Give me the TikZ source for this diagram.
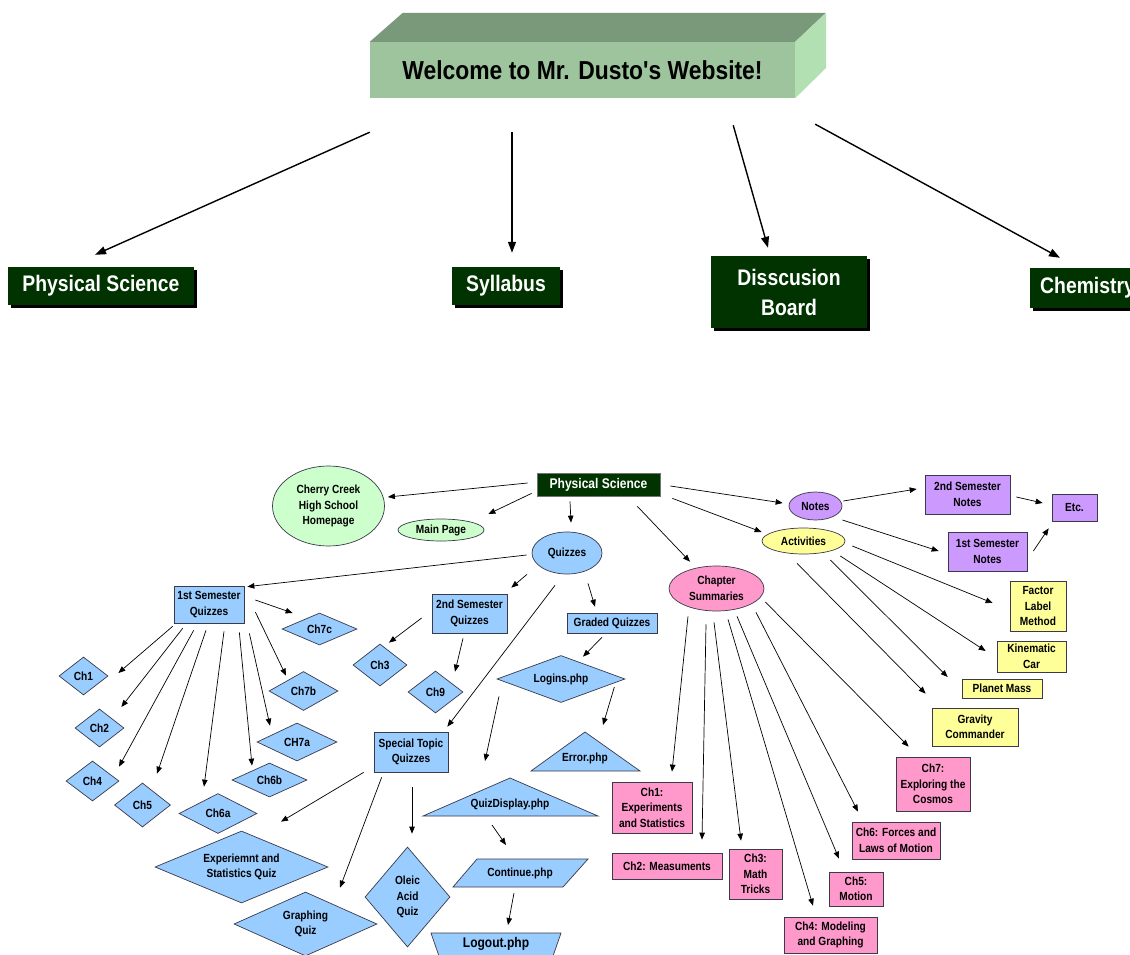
\documentclass[tikz,border=0pt]{standalone}
\usepackage{fontspec}
\setmainfont{Liberation Sans}[FakeStretch=0.86]
\newfontfamily\welfont{Liberation Sans}[FakeStretch=0.88, Ligatures=TeXOff]
\usetikzlibrary{shapes.geometric,arrows.meta,calc,shadows}
\definecolor{dkg}{HTML}{003300}
\definecolor{lblue}{HTML}{99CCFF}
\definecolor{lpink}{HTML}{FF99CC}
\definecolor{lpurp}{HTML}{CC99FF}
\definecolor{lyel}{HTML}{FFFF99}
\definecolor{lgreen}{HTML}{CCFFCC}
\definecolor{bfront}{HTML}{9DC49D}
\definecolor{btop}{HTML}{7A987A}
\definecolor{bside}{HTML}{B2E0B2}
\definecolor{edge}{HTML}{3A3A4A}
\tikzset{
  lab/.style={font=\bfseries\fontsize{11.8}{15.5}\selectfont, align=center, text=black},
  bx/.style n args={2}{lab, rectangle, draw=edge, line width=0.7pt, inner sep=0pt, minimum width=#1, minimum height=#2},
  ell/.style n args={2}{lab, ellipse, draw=edge, line width=0.7pt, inner sep=0pt, minimum width=#1, minimum height=#2},
  dia/.style n args={3}{lab, diamond, draw=edge, line width=0.7pt, inner sep=0pt, fill=lblue, minimum width=#1, minimum height=#2, aspect=#3},
  shp/.style={draw=edge, line width=0.7pt, fill=lblue},
  arr/.style={-{Triangle[length=7pt,width=5.5pt]}, line width=0.7pt},
  bigarr/.style={-{Triangle[length=11pt,width=8pt]}, line width=1.4pt},
  btn/.style={fill=dkg, text=white, inner sep=0pt, align=center, font=\bfseries\fontsize{22.5}{30}\selectfont,
    drop shadow={shadow xshift=2.5pt, shadow yshift=-2.5pt, opacity=1, fill=black}},
  dkbtn/.style={fill=dkg, draw=black!55, line width=0.7pt, text=white, inner sep=0pt, font=\bfseries\fontsize{14}{15}\selectfont}
}
\begin{document}
\begin{tikzpicture}[x=1pt,y=-1pt]
\useasboundingbox (0,0) rectangle (1130,955);
\clip (0,0) rectangle (1130,955);
\fill[white] (0,0) rectangle (1130,955);

% ---------- top banner ----------
\node[font=\welfont\bfseries\fontsize{26}{30}\selectfont, fill=bfront, minimum width=425, minimum height=56, inner sep=0pt] (wel) at (582.5,70) {Welcome to Mr. Dusto's Website!};
\fill[btop] (wel.north west) -- ++(33,-29) -- ++(423,0) -- (wel.north east) -- cycle;
\fill[bside] (wel.north east) -- ++(31,-29) -- ++(0,55) -- (wel.south east) -- cycle;

\node[btn, minimum width=186, minimum height=38] (phys) at (101,286) {Physical Science};
\node[btn, minimum width=108, minimum height=38] (syl) at (506,286) {Syllabus};
\node[btn, minimum width=156, minimum height=72] (disc) at (789,292) {Disscusion\\Board};
\node[btn, anchor=west, minimum height=40, inner xsep=10pt] (chem) at (1030,288) {Chemistry};

\draw[bigarr] ($(wel.south west)+(0,34)$) -- ($(phys.north)+(-6,-12)$);
\draw[bigarr] ($(wel.south)+(-70.5,34)$) -- ($(syl.north)+(6,-14)$);
\draw[bigarr] ($(wel.south east)+(-62,27)$) -- ($(disc.north)+(-21,-8)$);
\draw[bigarr] ($(wel.south east)+(20,26)$) -- ($(chem.north west)+(30,-10)$);

% ---------- lower diagram ----------
\node[dkbtn, minimum width=123, minimum height=23] (ps) at (598.5,484.5) {Physical Science};
\node[ell={112}{80}, fill=lgreen] (cc) at (328.5,506) {Cherry Creek\\High School\\Homepage};
\node[ell={86}{22}, fill=lgreen] (mp) at (441,530) {Main Page};
\node[ell={70}{42}, fill=lblue] (qz) at (567,553) {Quizzes};
\node[ell={53}{28}, fill=lpurp] (notes) at (815.5,506) {Notes};
\node[ell={83}{26}, fill=lyel] (act) at (803.5,541) {Activities};
\node[ell={95}{45}, fill=lpink] (chs) at (716.5,588.5) {Chapter\\Summaries};

% notes
\node[bx={85}{39}, fill=lpurp] (sem2n) at (967.5,494.5) {2nd Semester\\Notes};
\node[bx={79}{39}, fill=lpurp] (sem1n) at (987.5,551.5) {1st Semester\\Notes};
\node[bx={45}{27}, fill=lpurp] (etc) at (1074.5,507.5) {Etc.};
% activities
\node[bx={56}{50}, fill=lyel] (factor) at (1038,606) {Factor\\Label\\Method};
\node[bx={69}{31}, fill=lyel] (kin) at (1031.5,656.5) {Kinematic\\Car};
\node[bx={80}{19}, fill=lyel] (planet) at (1002,688.5) {Planet Mass};
\node[bx={86}{38}, fill=lyel] (grav) at (975,727) {Gravity\\Commander};
% chapters
\node[bx={74}{54}, fill=lpink] (c7) at (933,784) {Ch7:\\Exploring the\\Cosmos};
\node[bx={88}{37}, fill=lpink] (c6) at (896,840.5) {Ch6: Forces and\\Laws of Motion};
\node[bx={54}{34}, fill=lpink] (c5) at (856,889) {Ch5:\\Motion};
\node[bx={93}{36}, fill=lpink] (c4) at (830.5,935) {Ch4: Modeling\\and Graphing};
\node[bx={53}{50}, fill=lpink] (c3) at (755.5,874) {Ch3:\\Math\\Tricks};
\node[bx={110}{26}, fill=lpink] (c2) at (667,866) {Ch2: Measuments};
\node[bx={80}{51}, fill=lpink] (c1) at (652,807.5) {Ch1:\\Experiments\\and Statistics};
% quizzes
\node[bx={70}{37}, fill=lblue] (q1) at (209,604.5) {1st Semester\\Quizzes};
\node[bx={75}{39}, fill=lblue] (q2) at (469.5,613.5) {2nd Semester\\Quizzes};
\node[bx={90}{20}, fill=lblue] (gq) at (612,623) {Graded Quizzes};
\node[bx={74}{40}, fill=lblue] (stq) at (411,752) {Special Topic\\Quizzes};

\node[dia={49}{38}{1.29}] (d1) at (83.5,676) {Ch1};
\node[dia={49}{38}{1.29}] (d2) at (99.5,728) {Ch2};
\node[dia={53}{40}{1.33}] (d4) at (92.5,781) {Ch4};
\node[dia={56}{44}{1.27}] (d5) at (142.5,805) {Ch5};
\node[dia={78}{40}{1.95}] (d6a) at (218,813.5) {Ch6a};
\node[dia={75}{34}{2.2}] (d6b) at (269.5,780) {Ch6b};
\node[dia={80}{38}{2.1}] (d7a) at (297,742) {CH7a};
\node[dia={69}{39}{1.77}] (d7b) at (303.5,691) {Ch7b};
\node[dia={75}{32}{2.34}] (d7c) at (319.5,629) {Ch7c};
\node[dia={54}{42}{1.29}] (d3) at (380,665) {Ch3};
\node[dia={55}{42}{1.31}] (d9) at (435.5,692) {Ch9};
\node[dia={128}{47}{2.72}] (login) at (561,679) {Logins.php};
\node[dia={173}{72}{2.4}] (esq) at (241.5,867) {Experiemnt and\\Statistics Quiz};
\node[dia={143}{64}{2.23}] (gq2) at (305.5,924) {Graphing\\Quiz};
\node[dia={85}{100}{0.85}] (oleic) at (407.5,897) {Oleic\\Acid\\Quiz};

% php shapes
\coordinate (erc) at (585,758);
\filldraw[shp] ($(erc)+(0,-26)$) -- ($(erc)+(55,13)$) -- ($(erc)+(-54,13)$) -- cycle;
\node[lab] (err) at (erc) {Error.php};
\coordinate (qdc) at (510,804);
\filldraw[shp] ($(qdc)+(0,-26)$) -- ($(qdc)+(88,12)$) -- ($(qdc)+(-87,12)$) -- cycle;
\node[lab] (qd) at (qdc) {QuizDisplay.php};
\coordinate (coc) at (520,873);
\filldraw[shp] ($(coc)+(-67,14)$) -- ($(coc)+(-43,-14)$) -- ($(coc)+(68,-14)$) -- ($(coc)+(43,14)$) -- cycle;
\node[lab] (cont) at (coc) {Continue.php};
\coordinate (loc) at (496,944);
\filldraw[shp] ($(loc)+(-65,-11)$) -- ($(loc)+(65,-11)$) -- ($(loc)+(56,15)$) -- ($(loc)+(-56,15)$) -- cycle;
\node[lab, font=\bfseries\fontsize{14}{15}\selectfont] (logout) at (loc) {Logout.php};

% ---------- connectors ----------
\draw[arr] ($(ps.west)+(-9,-1.5)$) -- ($(cc.east)+(3,-9)$);
\draw[arr] ($(ps.south west)+(-5,-3)$) -- ($(mp.east)+(4,-16)$);
\draw[arr] ($(ps.south)+(-28.5,5)$) -- ($(qz.north)+(4,-9)$);
\draw[arr] ($(ps.east)+(10,1.5)$) -- ($(notes.west)+(-6,-3)$);
\draw[arr] ($(ps.south east)+(12,2)$) -- ($(act.west)+(0,-9)$);
\draw[arr] ($(ps.south east)+(-23,10)$) -- ($(chs.north)+(-26.5,-4)$);

\draw[arr] ($(notes.east)+(1,-5)$) -- ($(sem2n.west)+(-8,-5.5)$);
\draw[arr] ($(notes.east)+(0,14)$) -- ($(sem1n.west)+(-9,-0.5)$);
\draw[arr] ($(sem2n.east)+(6,2.5)$) -- ($(etc.west)+(-9,-4.5)$);
\draw[arr] ($(sem1n.east)+(6,-0.5)$) -- ($(etc.south west)+(-3,7)$);

\draw[arr] ($(act.east)+(7,5)$) -- ($(factor.west)+(-17,-3)$);
\draw[arr] ($(act.east)+(-5,15)$) -- ($(kin.west)+(-11,-5.5)$);
\draw[arr] ($(act.east)+(-15,19)$) -- ($(planet.west)+(-14,-11.5)$);
\draw[arr] ($(act.south)+(-6.5,9)$) -- ($(grav.north west)+(-6,-14)$);

\draw[arr] ($(chs.east)+(1,13.5)$) -- ($(c7.north west)+(13,-10)$);
\draw[arr] ($(chs.south)+(-28.5,5)$) -- ($(c1.north)+(20,-10)$);
\draw[arr] ($(chs.south)+(-10.5,13)$) -- ($(c2.north)+(35,-13)$);
\draw[arr] ($(chs.south)+(-2.5,11)$) -- ($(c3.north)+(-14.5,-8)$);
\draw[arr] ($(chs.south)+(11.5,8)$) -- ($(c4.north)+(-17.5,-11)$);
\draw[arr] ($(chs.south)+(20.5,5)$) -- ($(c5.north)+(-17,-13)$);
\draw[arr] ($(chs.south)+(39.5,1)$) -- ($(c6.north)+(-38,-10)$);

\draw[arr] ($(qz.west)+(-5,2)$) -- ($(q1.north east)+(3,1)$);
\draw[arr] ($(qz.south)+(-40,0)$) -- ($(q2.north east)+(4,-6)$);
\draw[arr] ($(qz.south)+(21,9)$) -- ($(gq.north)+(-17,-6)$);
\draw[arr] ($(qz.south)+(-12,11)$) -- ($(stq.north east)+(-1,-5)$);

\draw[arr] ($(q1.south west)+(-1,3)$) -- ($(d1.east)+(10,-3)$);
\draw[arr] ($(q1.south west)+(9,5)$) -- ($(d2.east)+(-3,-21)$);
\draw[arr] ($(q1.south west)+(20,7)$) -- ($(d4.north)+(26.5,6)$);
\draw[arr] ($(q1.south)+(-3,7)$) -- ($(d5.north)+(14.5,-9)$);
\draw[arr] ($(q1.south)+(15,8)$) -- ($(d6a.north)+(-14,-6.5)$);
\draw[arr] ($(q1.south east)+(-5,9)$) -- ($(d6b.north)+(-17.5,3)$);
\draw[arr] ($(q1.south east)+(5,10)$) -- ($(d7a.north)+(-27,3)$);
\draw[arr] ($(q1.east)+(11,7.5)$) -- ($(d7b.north)+(-17.5,4.5)$);
\draw[arr] ($(q1.east)+(11,-4.5)$) -- ($(d7c.west)+(11,-16)$);

\draw[arr] ($(q2.west)+(-10,4.5)$) -- ($(d3.north)+(9,-1)$);
\draw[arr] ($(q2.south)+(-6.5,5)$) -- ($(d9.north)+(19.5,1)$);
\draw[arr] ($(gq.south)+(-10,4)$) -- ($(login.north)+(22,1.5)$);
\draw[arr] ($(login.east)+(-11,8)$) -- ($(err)+(18,-33)$);
\draw[arr] ($(login.south)+(-62,-6.5)$) -- ($(qd)+(-25,-43)$);
\draw[arr] ($(qd)+(-18,21)$) -- ($(cont)+(-14,-28)$);
\draw[arr] ($(cont)+(-6,20)$) -- ($(logout)+(12,-19)$);

\draw[arr] ($(stq.south west)+(-10,0)$) -- ($(esq.north)+(39.5,-9)$);
\draw[arr] ($(stq.south west)+(8,5)$) -- ($(gq2.north)+(34.5,-4)$);
\draw[arr] ($(stq.south)+(1,15)$) -- ($(oleic.north)+(4.5,-13)$);
\end{tikzpicture}
\end{document}
